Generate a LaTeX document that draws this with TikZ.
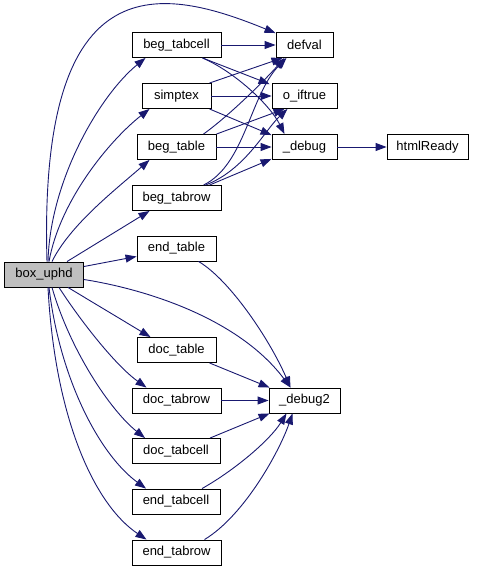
\documentclass[tikz,border=0pt]{standalone}
\usepackage{fontspec}
\setmainfont{Liberation Sans}
\usetikzlibrary{arrows.meta}
\definecolor{edgeblue}{HTML}{191970}
\definecolor{rootgray}{HTML}{BFBFBF}
\begin{document}
\begin{tikzpicture}[x=1pt,y=-1pt,
  fn/.style={draw=black,line width=0.9pt,fill=white,inner sep=0pt,minimum height=25pt,
    font=\fontsize{13}{15}\selectfont,anchor=center},
  e/.style={draw=edgeblue,line width=0.9pt,-{Triangle[length=11pt,width=8pt]}}]
\useasboundingbox (0,0) rectangle (479,571);
\node[fn,fill=rootgray,minimum width=79pt] (box) at (44,274.5) {box\_uphd};
\node[fn,minimum width=89pt] (btc) at (176.5,45) {beg\_tabcell};
\node[fn,minimum width=57pt] (defval) at (304.5,45) {defval};
\node[fn,minimum width=69pt] (simptex) at (176.5,96) {simptex};
\node[fn,minimum width=65pt] (oif) at (304.5,96) {o\_iftrue};
\node[fn,minimum width=79pt] (btable) at (176.5,147) {beg\_table};
\node[fn,minimum width=65pt] (debug) at (304.5,147) {\_debug};
\node[fn,minimum width=81pt] (html) at (427.5,147) {htmlReady};
\node[fn,minimum width=89pt] (btrow) at (176.5,198) {beg\_tabrow};
\node[fn,minimum width=79pt] (etable) at (176.5,248.5) {end\_table};
\node[fn,minimum width=79pt] (dtable) at (176.5,350) {doc\_table};
\node[fn,minimum width=89pt] (dtrow) at (176.5,400.5) {doc\_tabrow};
\node[fn,minimum width=71pt] (debug2) at (304.5,400.5) {\_debug2};
\node[fn,minimum width=88pt] (dtcell) at (176,451) {doc\_tabcell};
\node[fn,minimum width=88pt] (etcell) at (176,501.5) {end\_tabcell};
\node[fn,minimum width=89pt] (etrow) at (176.5,552.5) {end\_tabrow};
% from box_uphd
\draw[e] ([xshift=3pt]box.north) .. controls (38,-42) and (165,-12) .. ([yshift=-1pt]defval.north west);
\draw[e] ([xshift=4pt]box.north) .. controls (50,180) and (100,95) .. ([xshift=-31pt]btc.south);
\draw[e] ([xshift=5pt]box.north) .. controls (60,200) and (110,140) .. ([xshift=-27pt]simptex.south);
\draw[e] ([xshift=8pt]box.north) .. controls (70,225) and (115,190) .. ([xshift=-27pt]btable.south);
\draw[e] ([xshift=23pt]box.north) -- ([xshift=-27pt]btrow.south);
\draw[e] ([yshift=8pt]box.east) -- ([yshift=-8pt]etable.west);
\draw[e] ([yshift=-5pt]box.east) .. controls (150,290) and (240,320) .. ([xshift=-14pt]debug2.north);
\draw[e] ([xshift=24pt]box.south) -- ([xshift=-26pt]dtable.north);
\draw[e] ([xshift=15pt]box.south) .. controls (80,320) and (115,365) .. ([xshift=-30pt]dtrow.north);
\draw[e] ([xshift=8pt]box.south) .. controls (70,350) and (110,410) .. ([xshift=-31pt]dtcell.north);
\draw[e] ([xshift=5pt]box.south) .. controls (60,380) and (100,455) .. ([xshift=-30pt]etcell.north);
\draw[e] ([xshift=4pt]box.south) .. controls (55,420) and (95,505) .. ([xshift=-30pt]etrow.north);
% beg_tabcell
\draw[e] (btc.east) -- (defval.west);
\draw[e] ([xshift=26pt]btc.south) -- ([xshift=-2pt,yshift=-1pt]oif.north west);
\draw[e] ([xshift=26pt]btc.south) .. controls (235,72) and (270,105) .. ([xshift=-20pt]debug.north);
% simptex
\draw[e] ([xshift=-2pt]simptex.north east) -- ([xshift=-22pt]defval.south);
\draw[e] (simptex.east) -- (oif.west);
\draw[e] ([xshift=-2pt]simptex.south east) -- ([yshift=-1pt]debug.north west);
% beg_table
\draw[e] ([xshift=27pt]btable.north) .. controls (230,115) and (265,80) .. ([xshift=-20pt]defval.south);
\draw[e] (btable.north east) -- ([xshift=-20pt]oif.south);
\draw[e] (btable.east) -- (debug.west);
% beg_tabrow
\draw[e] ([xshift=27pt]btrow.north) .. controls (245,165) and (250,95) .. ([xshift=-18pt]defval.south);
\draw[e] ([xshift=29pt]btrow.north) .. controls (245,170) and (265,130) .. ([xshift=-17pt]oif.south);
\draw[e] ([xshift=33pt]btrow.north) -- ([yshift=1pt]debug.south west);
% _debug
\draw[e] (debug.east) -- (html.west);
% to _debug2
\draw[e] ([xshift=22pt]etable.south) .. controls (230,280) and (270,340) .. ([xshift=-14pt]debug2.north);
\draw[e] ([xshift=33pt]dtable.south) -- ([xshift=1pt]debug2.north west);
\draw[e] (dtrow.east) -- (debug2.west);
\draw[e] ([xshift=34pt]dtcell.north) -- ([xshift=1pt]debug2.south west);
\draw[e] ([xshift=26pt]etcell.north) .. controls (235,470) and (270,440) .. ([xshift=-18pt]debug2.south);
\draw[e] ([xshift=28pt]etrow.north) .. controls (245,515) and (280,450) .. ([xshift=-12pt]debug2.south);
\end{tikzpicture}
\end{document}
